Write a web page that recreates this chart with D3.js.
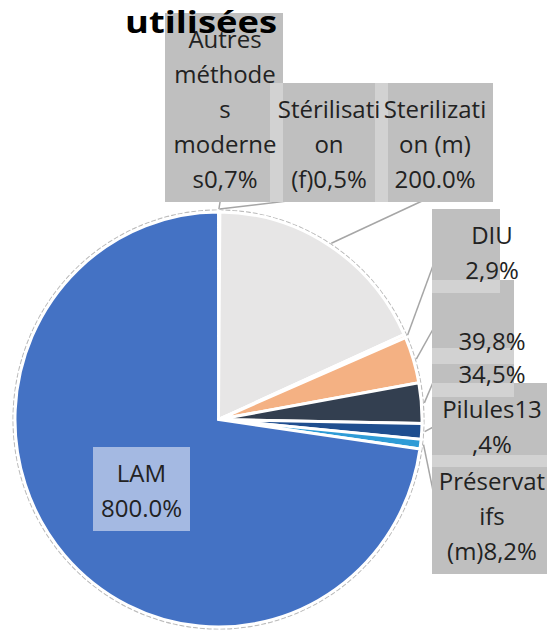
<!DOCTYPE html>
<html>
<head>
<meta charset="utf-8">
<script src="https://cdn.jsdelivr.net/npm/d3@7/dist/d3.min.js"></script>
<style>
  html, body { margin: 0; padding: 0; background: #fff; }
  svg { display: block; }
</style>
</head>
<body>
<svg id="chart" width="547" height="631"></svg>
<script>
// ---- data ----
const categories = ["Autres méthodes modernes", "Stérilisation (f)", "Sterilization (m)", "DIU", "", "", "Pilules", "Préservatifs (m)", "LAM"];
const values = [0.007, 0.005, 2, 0.029, 0.398, 0.345, 0.134, 0.082, 8];
const labelLines = [
  ["Autres", "méthode", "s", "moderne", "s0,7%"],
  ["Stérilisati", "on", "(f)0,5%"],
  ["Sterilizati", "on (m)", "200.0%"],
  ["DIU", "2,9%"],
  ["", "39,8%"],
  ["34,5%"],
  ["Pilules13", ",4%"],
  ["Préservat", "ifs", "(m)8,2%"],
  ["LAM", "800.0%"]
];
const titleText = "utilisées";

// ---- styles / layout ----
const colors = ["#A5A5A5", "#7F7F7F", "#E7E6E6", "#F8CBAD", "#F4B183", "#333F50", "#1F4E8F", "#2E9BD6", "#4472C4"];
const boxLayout = [
  { x: 165, y: 13, w: 118, tx: 225, end: [222, 190] },
  { x: 270, y: 83, w: 118, tx: 329, end: [329, 196] },
  { x: 375, y: 83, w: 118, tx: 435, end: [435, 195] },
  { x: 432, y: 209, w: 68, tx: 492, end: [438, 252] },
  { x: 432, y: 280, w: 82, tx: 492, end: [437, 322] },
  { x: 432, y: 348, w: 82, tx: 492, end: [437, 373] },
  { x: 432, y: 383, w: 120, tx: 492, end: [437, 425] },
  { x: 432, y: 455, w: 120, tx: 492, end: [437, 510] },
  { x: 93, y: 447, w: 97, tx: 141.5, end: null, fill: "#A4B9E2" }
];
const lineH = 35, padH = 14, firstBase = 34.5;
const cx = 218.5, cy = 419.5, rx = 203.5, ry = 207.5;

const svg = d3.select("#chart");

// pie
const pie = d3.pie().sort(null).value(d => d)(values);
const arc = d3.arc().innerRadius(0).outerRadius(ry);
const pg = svg.append("g").attr("transform", `translate(${cx},${cy}) scale(${rx / ry},1)`);
pg.append("circle").attr("r", ry + 2)
  .attr("fill", "none").attr("stroke", "#BDBDBD").attr("stroke-width", 1.2)
  .attr("stroke-dasharray", "5 2");
pg.selectAll("path.slice").data(pie).join("path")
  .attr("class", "slice")
  .attr("d", arc)
  .attr("fill", (d, i) => colors[i])
  .attr("stroke", "#fff")
  .attr("stroke-width", 3)
  .attr("stroke-linejoin", "miter");

// leader lines
const leaders = pie.map((d, i) => ({ d, i })).filter(o => boxLayout[o.i].end);
svg.selectAll("line.leader").data(leaders).join("line")
  .attr("class", "leader")
  .attr("x1", o => cx + (rx + 3) * Math.sin((o.d.startAngle + o.d.endAngle) / 2))
  .attr("y1", o => cy - (ry + 3) * Math.cos((o.d.startAngle + o.d.endAngle) / 2))
  .attr("x2", o => boxLayout[o.i].end[0])
  .attr("y2", o => boxLayout[o.i].end[1])
  .attr("stroke", "#A6A6A6")
  .attr("stroke-width", 1.5);

// label boxes
const boxes = labelLines.map((lines, i) => {
  const L = boxLayout[i];
  return { i, lines, x: L.x, y: L.y, w: L.w, h: lines.length * lineH + padH, tx: L.tx, fill: L.fill || "#BFBFBF" };
});
svg.selectAll("rect.lbl").data(boxes).join("rect")
  .attr("class", "lbl")
  .attr("x", b => b.x).attr("y", b => b.y)
  .attr("width", b => b.w).attr("height", b => b.h)
  .attr("fill", b => b.fill);

// overlaps between label boxes drawn lighter
const overlaps = [];
for (let a = 0; a < boxes.length; a++) {
  for (let b = a + 1; b < boxes.length; b++) {
    const A = boxes[a], B = boxes[b];
    const x0 = Math.max(A.x, B.x), x1 = Math.min(A.x + A.w, B.x + B.w);
    const y0 = Math.max(A.y, B.y), y1 = Math.min(A.y + A.h, B.y + B.h);
    if (x1 > x0 && y1 > y0) overlaps.push({ x: x0, y: y0, w: x1 - x0, h: y1 - y0 });
  }
}
svg.selectAll("rect.ov").data(overlaps).join("rect")
  .attr("class", "ov")
  .attr("x", o => o.x).attr("y", o => o.y)
  .attr("width", o => o.w).attr("height", o => o.h)
  .attr("fill", "#D2D2D2");

// label text
const tg = svg.selectAll("text.lbl").data(boxes).join("text")
  .attr("class", "lbl")
  .attr("font-family", "'Open Sans', 'Noto Sans', sans-serif")
  .attr("font-size", 24)
  .attr("fill", "#222")
  .attr("text-anchor", "middle");
tg.selectAll("tspan").data(b => b.lines.map((t, k) => ({ t, k, b }))).join("tspan")
  .attr("x", o => o.b.tx)
  .attr("y", o => o.b.y + firstBase + o.k * lineH)
  .text(o => o.t);

// title (only the last line is visible in the frame)
svg.append("text")
  .attr("x", 125).attr("y", 33)
  .attr("font-family", "'Open Sans', 'Noto Sans', sans-serif")
  .attr("font-weight", "bold")
  .attr("font-size", 31)
  .attr("textLength", 152)
  .attr("lengthAdjust", "spacingAndGlyphs")
  .attr("fill", "#000")
  .text(titleText);
</script>
</body>
</html>
